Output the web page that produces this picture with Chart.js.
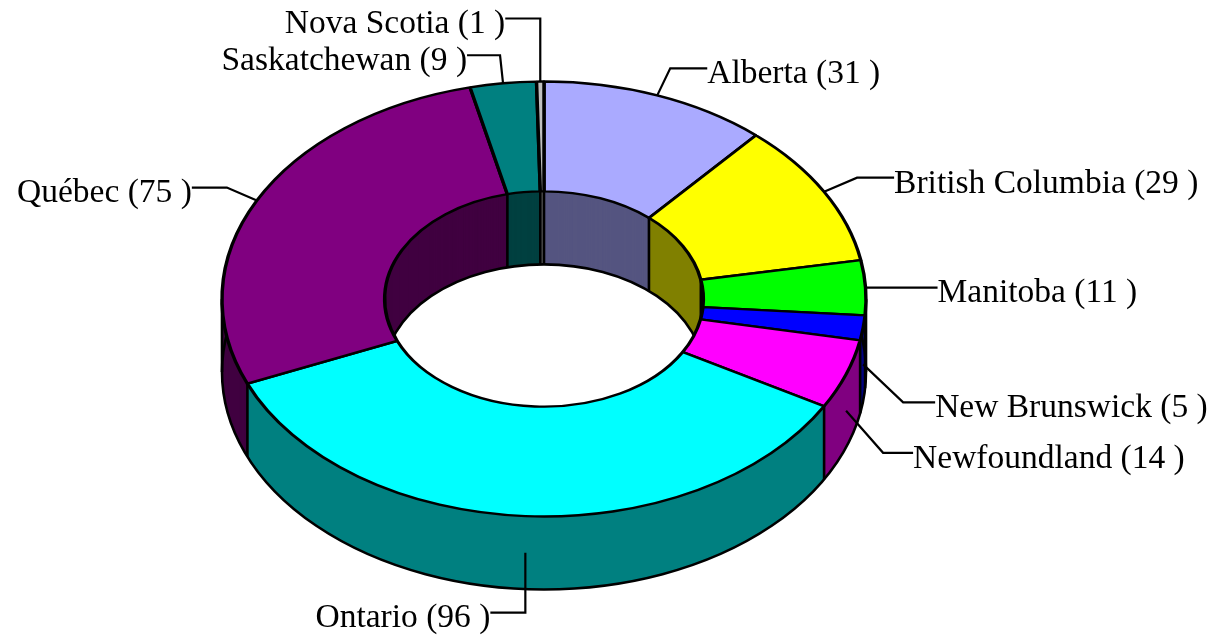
<!DOCTYPE html>
<html>
<head>
<meta charset="utf-8">
<script src="https://cdn.jsdelivr.net/npm/chart.js@4.4.1/dist/chart.umd.min.js"></script>
<style>
  html, body { margin: 0; padding: 0; background: #fff; }
  #wrap { width: 1219px; height: 638px; position: relative; }
</style>
</head>
<body>
<div id="wrap"><canvas id="myDonut"></canvas></div>
<script>
var provinces = ["Alberta", "British Columbia", "Manitoba", "New Brunswick", "Newfoundland", "Ontario", "Québec", "Saskatchewan", "Nova Scotia"];
var counts = [31, 29, 11, 5, 14, 96, 75, 9, 1];
var sliceColors = ["#AAAAFF", "#FFFF00", "#00FF00", "#0000FF", "#FF00FF", "#00FFFF", "#800080", "#008080", "#C0C0C0"];
// leader line per label: elbow dx, elbow dy (from slice anchor), horizontal run
var leaderLines = [[13, -27, 37], [33, -14, 37], [0, 0, 72], [40, 38, 32], [37, 42, 30], [0, 60, 35], [-30, -13, 35], [-3, -28, 33], [0, -63, 35]];

// where the flattened ring sits on the page
var centerX = 544, centerY = 299, radiusX = 322, radiusY = 217.5, depth = 73;

function darker(hex) {
    var n = parseInt(hex.slice(1), 16);
    return "rgb(" + Math.round(((n >> 16) & 255) / 2) + "," + Math.round(((n >> 8) & 255) / 2) + "," + Math.round((n & 255) / 2) + ")";
}

function toScreen(ctx, arc, k) {
    ctx.translate(centerX, centerY + k);
    ctx.scale(radiusX / arc.outerRadius, radiusY / arc.outerRadius);
    ctx.translate(-arc.x, -arc.y);
}

function ringPath(ctx, arc) {
    ctx.beginPath();
    ctx.arc(arc.x, arc.y, arc.outerRadius, arc.startAngle, arc.endAngle);
    ctx.arc(arc.x, arc.y, arc.innerRadius, arc.endAngle, arc.startAngle, true);
    ctx.closePath();
}

function ellipsePoint(arc, r, a, k) {
    var f = r / arc.outerRadius;
    return [centerX + radiusX * f * Math.cos(a), centerY + radiusY * f * Math.sin(a) + k];
}

var donut3d = {
    id: "donut3d",
    beforeDatasetsDraw: function (chart) {
        var ctx = chart.ctx;
        var arcs = chart.getDatasetMeta(0).data;
        var a0 = arcs[0];

        // side walls, layer by layer from the bottom up
        for (var k = depth; k >= 1; k--) {
            arcs.forEach(function (arc, i) {
                ctx.save();
                toScreen(ctx, arc, k);
                ringPath(ctx, arc);
                ctx.restore();
                ctx.fillStyle = darker(sliceColors[i]);
                ctx.fill();
            });
        }

        ctx.lineWidth = 2.6;
        ctx.strokeStyle = "#000";
        // bottom rims
        [a0.outerRadius, a0.innerRadius].forEach(function (r) {
            ctx.save();
            toScreen(ctx, a0, depth);
            ctx.beginPath();
            ctx.arc(a0.x, a0.y, r, 0, Math.PI * 2);
            ctx.restore();
            ctx.stroke();
        });

        // vertical edges: outer ones on the front, inner ones at the back
        var angles = arcs.map(function (arc) { return arc.startAngle; });
        angles.push(0, Math.PI);
        ctx.beginPath();
        angles.forEach(function (a) {
            var s = Math.sin(a);
            if (s >= -0.001) {
                var p = ellipsePoint(a0, a0.outerRadius, a, 0), q = ellipsePoint(a0, a0.outerRadius, a, depth);
                ctx.moveTo(p[0], p[1]); ctx.lineTo(q[0], q[1]);
            }
            if (s < 0) {
                var p2 = ellipsePoint(a0, a0.innerRadius, a, 0), q2 = ellipsePoint(a0, a0.innerRadius, a, depth);
                ctx.moveTo(p2[0], p2[1]); ctx.lineTo(q2[0], q2[1]);
            }
        });
        ctx.stroke();

        // top face is drawn by Chart.js inside this transform
        ctx.save();
        toScreen(ctx, a0, 0);
    },
    afterDatasetsDraw: function (chart) {
        chart.ctx.restore();
    },
    afterDraw: function (chart) {
        var ctx = chart.ctx;
        var arcs = chart.getDatasetMeta(0).data;
        ctx.save();
        ctx.lineWidth = 2.2;
        ctx.strokeStyle = "#000";
        ctx.fillStyle = "#000";
        ctx.font = "33.5px 'Liberation Serif', 'Times New Roman', serif";
        arcs.forEach(function (arc, i) {
            var mid = (arc.startAngle + arc.endAngle) / 2;
            var p = ellipsePoint(arc, arc.outerRadius, mid, Math.sin(mid) > 0 ? depth / 2 : 0);
            var ln = leaderLines[i];
            var ex = p[0] + ln[0], ey = p[1] + ln[1];
            var left = p[0] < centerX;
            var tx = left ? ex - ln[2] : ex + ln[2];
            ctx.beginPath();
            ctx.moveTo(p[0], p[1]);
            ctx.lineTo(ex, ey);
            ctx.lineTo(tx, ey);
            ctx.stroke();
            ctx.textAlign = left ? "right" : "left";
            ctx.textBaseline = "middle";
            ctx.fillText(provinces[i] + " (" + counts[i] + " )", tx, ey + 6);
        });
        ctx.restore();
    }
};

new Chart("myDonut", {
    type: "doughnut",
    data: {
        labels: provinces,
        datasets: [{
            data: counts,
            backgroundColor: sliceColors,
            borderColor: "#000",
            borderWidth: 3.4,
            clip: false
        }]
    },
    options: {
        responsive: true,
        maintainAspectRatio: false,
        animation: false,
        events: [],
        cutout: "49.5%",
        plugins: {
            legend: { display: false },
            tooltip: { enabled: false }
        }
    },
    plugins: [donut3d]
});
</script>
</body>
</html>
